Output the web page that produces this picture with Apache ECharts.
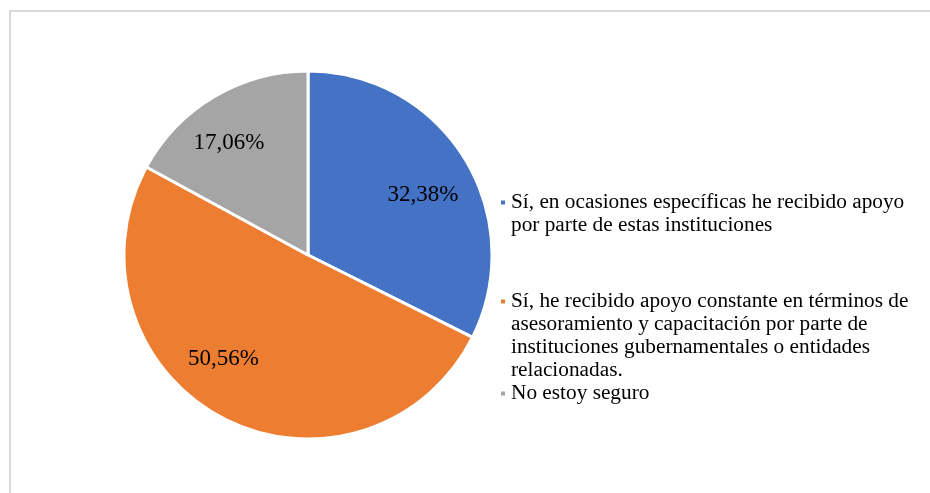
<!DOCTYPE html>
<html>
<head>
<meta charset="utf-8">
<script src="https://cdn.jsdelivr.net/npm/echarts@6/dist/echarts.min.js"></script>
<style>
  html, body { margin: 0; padding: 0; background: #fff; }
  #chart { width: 930px; height: 493px; }
</style>
</head>
<body>
<div id="chart"></div>
<script>
// categorias y valores
const categories = [
  "Sí, en ocasiones específicas he recibido apoyo por parte de estas instituciones",
  "Sí, he recibido apoyo constante en términos de asesoramiento y capacitación por parte de instituciones gubernamentales o entidades relacionadas.",
  "No estoy seguro"
];
const values = [32.38, 50.56, 17.06];
const colors = ["#4472C4", "#ED7D31", "#A5A5A5"];
// lineas de la leyenda tal como aparecen
const legendLines = [
  ["Sí, en ocasiones específicas he recibido apoyo", "por parte de estas instituciones"],
  ["Sí, he recibido apoyo constante en términos de", "asesoramiento y capacitación por parte de",
   "instituciones gubernamentales o entidades", "relacionadas."],
  ["No estoy seguro"]
];
const legendTops = [168, 221, 382];
// ajuste fino de etiquetas (el "mejor ajuste" de Excel no cae justo en el angulo medio)
const labelNudge = [[0, 11], [-22, -16], [-10, 4]];

const font = "'Liberation Serif', 'Times New Roman', serif";
const pieData = categories.map((name, i) => ({ name, value: values[i] }));

const chart = echarts.init(document.getElementById("chart"));
chart.setOption({
  animation: false,
  color: colors,
  graphic: [{
    type: "rect",
    shape: { x: 10, y: 11, width: 1000, height: 600 },
    style: { fill: "none", stroke: "#d9d9d9", lineWidth: 2 },
    silent: true
  }],
  // una leyenda por categoria, con el marcador a la altura de la primera linea
  legend: categories.map((name, i) => ({
    data: [name],
    orient: "vertical",
    left: 499,
    top: legendTops[i],
    padding: 0,
    itemWidth: 6,
    itemHeight: 6,
    icon: "rect",
    selectedMode: false,
    textStyle: { fontFamily: font, fontSize: 21.3, lineHeight: 23, color: "#000" },
    formatter: () => {
      const lines = legendLines[i];
      return new Array(lines.length - 1).fill("").concat(lines).join("\n");
    }
  })),
  series: [
    {
      type: "pie",
      center: [308, 255],
      radius: 184,
      startAngle: 90,
      clockwise: true,
      silent: true,
      itemStyle: { borderColor: "#fff", borderWidth: 3 },
      label: { show: false },
      labelLine: { show: false },
      data: pieData
    },
    {
      // anillo transparente solo para colocar las etiquetas
      type: "pie",
      center: [308, 255],
      radius: [80, 184],
      startAngle: 90,
      clockwise: true,
      silent: true,
      itemStyle: { color: "transparent", borderWidth: 0 },
      label: {
        show: true,
        position: "inside",
        fontFamily: font,
        fontSize: 23,
        color: "#000",
        formatter: p => p.value.toFixed(2).replace(".", ",") + "%"
      },
      labelLayout: p => ({ dx: labelNudge[p.dataIndex][0], dy: labelNudge[p.dataIndex][1] }),
      labelLine: { show: false },
      data: pieData
    }
  ]
});
</script>
</body>
</html>
